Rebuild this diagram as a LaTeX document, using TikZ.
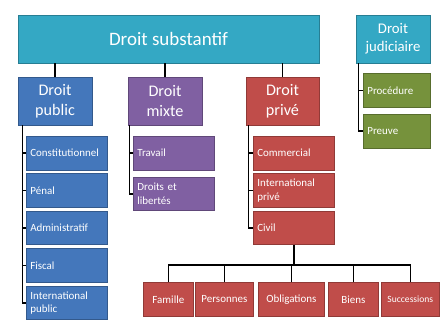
\documentclass[tikz,border=0pt]{standalone}
\usepackage{fontspec}
\setmainfont{Carlito}
\usetikzlibrary{positioning}

\definecolor{substcol}{RGB}{52,168,196}
\definecolor{pubcol}{RGB}{68,119,187}
\definecolor{mixcol}{RGB}{128,96,162}
\definecolor{privcol}{RGB}{192,77,74}
\definecolor{judcol}{RGB}{118,146,60}

\begin{document}
\begin{tikzpicture}[x=0.025cm, y=-0.025cm, node distance=0.08cm]
    % Styles
    \tikzstyle{headblock} = [rectangle, text=white, align=center, inner sep=0pt,
        line width=0.5pt, minimum width=1.85cm, minimum height=1.2cm, font=\fontsize{11.5}{14}\selectfont]
    \tikzstyle{itemblock} = [rectangle, text=white, align=left, inner xsep=0.1cm, inner ysep=0pt,
        line width=0.5pt, text width=1.825cm, minimum height=0.8375cm, font=\fontsize{7.8}{9.4}\selectfont]
    \tikzstyle{leafblock} = [rectangle, text=white, align=center, inner sep=0pt, anchor=north west,
        line width=0.5pt, minimum height=0.85cm, font=\fontsize{7.8}{9.4}\selectfont,
        fill=privcol, draw=privcol!75!black]
    \tikzstyle{substhead} = [headblock, fill=substcol, draw=substcol!75!black]
    \tikzstyle{pubhead} = [headblock, fill=pubcol, draw=pubcol!75!black]
    \tikzstyle{mixhead} = [headblock, fill=mixcol, draw=mixcol!75!black]
    \tikzstyle{privhead} = [headblock, fill=privcol, draw=privcol!75!black]
    \tikzstyle{pubitem} = [itemblock, fill=pubcol, draw=pubcol!75!black]
    \tikzstyle{mixitem} = [itemblock, fill=mixcol, draw=mixcol!75!black]
    \tikzstyle{privitem} = [itemblock, fill=privcol, draw=privcol!75!black]
    \tikzstyle{juditem} = [itemblock, fill=judcol, draw=judcol!75!black, text width=1.475cm, minimum height=0.85cm]
    \tikzstyle{link} = [draw=black, line width=1.2pt]

    \useasboundingbox (0,0) rectangle (440,330);

    % === TOP ROW ===
    \node [substhead, minimum width=7.525cm, font=\fontsize{13.5}{16}\selectfont] (subst) at (168.5,39) {Droit substantif};
    \node [substhead, font=\fontsize{10.5}{13}\selectfont] (judic) at (393,39) {Droit\\judiciaire};

    % === SECOND ROW ===
    \node [pubhead] (public) at (55,101) {Droit\\public};
    \node [mixhead] (mixte) at (165,101) {Droit\\mixte};
    \node [privhead, minimum width=1.825cm] (prive) at (282.5,101) {Droit\\privé};

    % Droit public
    \node [pubitem, anchor=north west] (constit) at (26,136) {Constitutionnel};
    \node [pubitem, below=of constit] (penal) {Pénal};
    \node [pubitem, below=of penal] (admin) {Administratif};
    \node [pubitem, below=of admin] (fiscal) {Fiscal};
    \node [pubitem, below=of fiscal] (intpub) {International\\public};

    % Droit mixte
    \node [mixitem, anchor=north west] (travail) at (133,136) {Travail};
    \node [mixitem, below=0.16cm of travail] (libertes) {Droits et\\libertés};

    % Droit prive
    \node [privitem, anchor=north west] (commercial) at (253,136) {Commercial};
    \node [privitem, below=of commercial] (intprive) {International\\privé};
    \node [privitem, below=of intprive] (civil) {Civil};

    % Droit judiciaire
    \node [juditem, anchor=north west] (procedure) at (363,73) {Procédure};
    \node [juditem, below=0.15cm of procedure] (preuve) {Preuve};

    % === BOTTOM ROW: Civil ===
    \node [leafblock, minimum width=1.25cm] (famille) at (143,282) {Famille};
    \node [leafblock, minimum width=1.45cm] (personnes) at (195,282) {Personnes};
    \node [leafblock, minimum width=1.65cm] (obligations) at (258,282) {Obligations};
    \node [leafblock, minimum width=1.25cm] (biens) at (328,282) {Biens};
    \node [leafblock, minimum width=1.45cm, font=\fontsize{6.8}{8}\selectfont] (successions) at (381,282) {Successions};

    % === CONNECTORS ===
    \foreach \n in {public,mixte,prive}
        \draw [link] (\n.north |- subst.south) -- (\n.north);

    \coordinate (pubtop) at ([xshift=0.12cm]public.south west);
    \draw [link] (pubtop) |- (intpub.west);
    \foreach \n in {constit,penal,admin,fiscal}
        \draw [link] (pubtop |- \n.west) -- (\n.west);

    \coordinate (mixtop) at ([xshift=0.05cm]mixte.south west);
    \draw [link] (mixtop) |- (libertes.west);
    \draw [link] (mixtop |- travail.west) -- (travail.west);

    \coordinate (privtop) at ([xshift=0.075cm]prive.south west);
    \draw [link] (privtop) |- (civil.west);
    \foreach \n in {commercial,intprive}
        \draw [link] (privtop |- \n.west) -- (\n.west);

    \coordinate (judtop) at ([xshift=0.075cm]judic.south west);
    \draw [link] (judtop) |- (preuve.west);
    \draw [link] (judtop |- procedure.west) -- (procedure.west);

    \coordinate (bus) at ([yshift=-0.5cm]civil.south);
    \draw [link] (civil.south) -- (bus);
    \foreach \n in {famille,personnes,obligations,biens,successions}
        \draw [link] (\n.north) |- (bus);

\end{tikzpicture}
\end{document}
